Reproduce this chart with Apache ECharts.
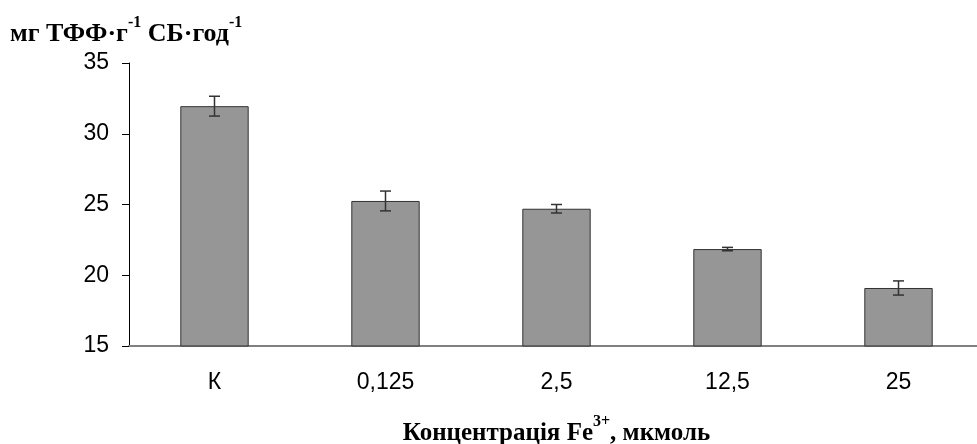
<!DOCTYPE html>
<html>
<head>
<meta charset="utf-8">
<script src="https://cdn.jsdelivr.net/npm/echarts@6/dist/echarts.min.js"></script>
<style>
  html, body { margin: 0; padding: 0; background: #fff; }
  #chart { width: 977px; height: 444px; }
</style>
</head>
<body>
<div id="chart"></div>
<script>
const categories = ['К', '0,125', '2,5', '12,5', '25']
const values = [31.95, 25.25, 24.7, 21.85, 19.1]
const errors = [0.7, 0.7, 0.3, 0.12, 0.5]
const yTicks = [15, 20, 25, 30, 35]

const chart = echarts.init(document.getElementById('chart'))

const serif = '"Liberation Serif", "Times New Roman", serif'
const sans = '"Liberation Sans", Arial, sans-serif'

chart.setOption({
  animation: false,
  title: {
    text: '{b|мг ТФФ·г}{s|-1}{b| СБ·год}{s|-1}',
    left: 10,
    top: 15,
    padding: 0,
    textStyle: {
      rich: {
        b: { fontFamily: serif, fontWeight: 'bold', fontSize: 26, color: '#000', lineHeight: 32, verticalAlign: 'bottom' },
        s: { fontFamily: serif, fontWeight: 'bold', fontSize: 16, color: '#000', lineHeight: 32, verticalAlign: 'top' }
      }
    }
  },
  grid: {
    left: 129,
    top: 63,
    width: 855,
    bottom: 98,
    outerBoundsMode: 'none',
    containLabel: false
  },
  xAxis: {
    type: 'category',
    data: categories,
    name: '{b|Концентрація Fe}{s|3+}{b|, мкмоль}',
    nameLocation: 'middle',
    nameGap: 68,
    nameTextStyle: {
      rich: {
        b: { fontFamily: serif, fontWeight: 'bold', fontSize: 25, color: '#000', lineHeight: 32, verticalAlign: 'bottom' },
        s: { fontFamily: serif, fontWeight: 'bold', fontSize: 16, color: '#000', lineHeight: 32, verticalAlign: 'top' }
      }
    },
    axisLine: { lineStyle: { color: '#808080', width: 2 } },
    axisTick: { alignWithLabel: false, length: 8, lineStyle: { color: '#000' } },
    axisLabel: { fontFamily: sans, fontSize: 23, color: '#000', margin: 25 }
  },
  yAxis: {
    type: 'value',
    min: yTicks[0],
    max: yTicks[yTicks.length - 1],
    interval: 5,
    axisLine: { show: true, lineStyle: { color: '#000', width: 1 } },
    axisTick: { show: true, length: 7, lineStyle: { color: '#000' } },
    axisLabel: { fontFamily: sans, fontSize: 23, color: '#000', margin: 20 },
    splitLine: { show: false }
  },
  series: [
    {
      type: 'bar',
      data: values,
      barWidth: '40%',
      itemStyle: { color: '#969696', borderColor: '#333', borderWidth: 1 }
    },
    {
      type: 'custom',
      data: values.map((v, i) => [i, v - errors[i], v + errors[i]]),
      renderItem: (params, api) => {
        const lo = api.coord([api.value(0), api.value(1)])
        const hi = api.coord([api.value(0), api.value(2)])
        const x = lo[0]
        const w = 5.5
        const style = { stroke: '#333', lineWidth: 1.5 }
        return {
          type: 'group',
          children: [
            { type: 'line', shape: { x1: x, y1: hi[1], x2: x, y2: lo[1] }, style },
            { type: 'line', shape: { x1: x - w, y1: hi[1], x2: x + w, y2: hi[1] }, style },
            { type: 'line', shape: { x1: x - w, y1: lo[1], x2: x + w, y2: lo[1] }, style }
          ]
        }
      },
      z: 5
    }
  ]
})
</script>
</body>
</html>
